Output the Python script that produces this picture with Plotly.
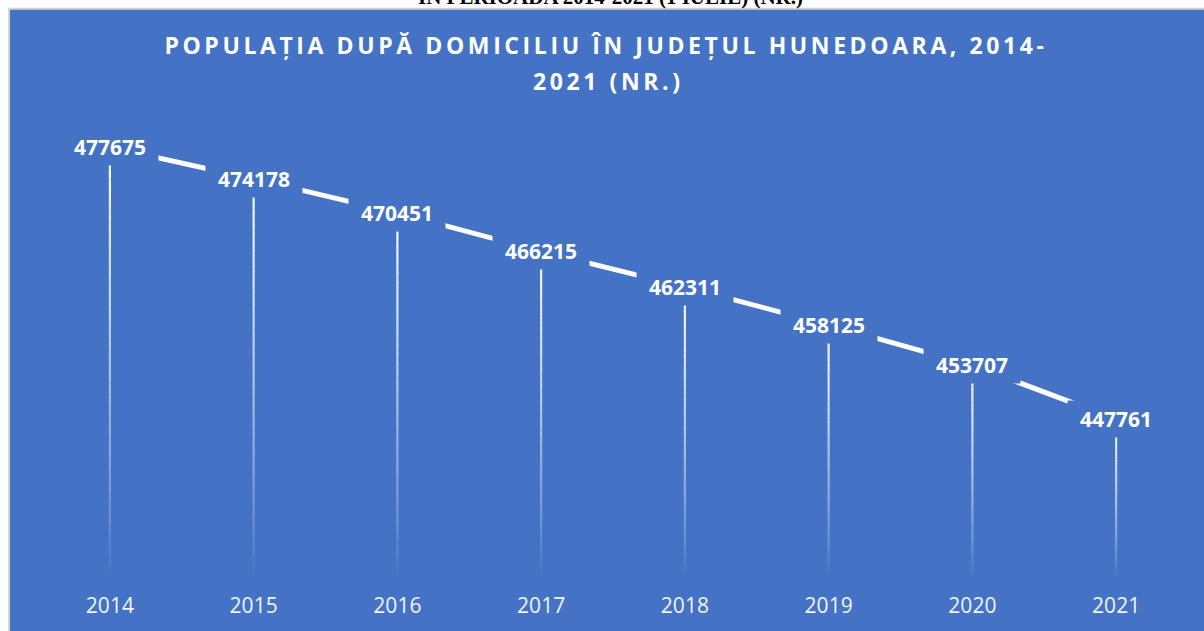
import plotly.graph_objects as go

# ---- data ----
years = [2014, 2015, 2016, 2017, 2018, 2019, 2020, 2021]
population = [477675, 474178, 470451, 466215, 462311, 458125, 453707, 447761]
tick_labels = ["2014", "2015", "2016", "2017", "2018", "2019", "2020", "2021"]
title_line1 = "POPULAȚIA DUPĂ DOMICILIU ÎN JUDEȚUL HUNEDOARA, 2014-"
title_line2 = "2021 (NR.)"
caption_above = "ÎN PERIOADA 2014-2021 (1 IULIE) (NR.)"

# ---- layout constants ----
W, H = 1204, 631
L, R, T, B = 38, 16, 126, 51
Y_MIN, Y_MAX = 430400, 480000
BLUE = "#4472C4"
FONT = "Open Sans"


def px_x(px):
    return (px - L) / (W - L - R)


def px_y(py):
    return (H - B - py) / (H - T - B)


fig = go.Figure()

# fading drop lines (gradient white -> transparent), built from the data values
N = 40
for k in range(N):
    xs, ys = [], []
    for yr, v in zip(years, population):
        top = v - (v - Y_MIN) * k / N
        bot = v - (v - Y_MIN) * (k + 1) / N
        xs += [yr, yr, None]
        ys += [top, bot, None]
    alpha = max(0.0, 1.0 - (k + 0.5) / N) ** 0.8
    fig.add_trace(go.Scatter(
        x=xs, y=ys, mode="lines",
        line=dict(color=f"rgba(255,255,255,{alpha:.3f})", width=2.2),
        hoverinfo="skip", showlegend=False,
    ))

# main line
fig.add_trace(go.Scatter(
    x=years, y=population, mode="lines",
    line=dict(color="white", width=5),
    showlegend=False, hoverinfo="skip",
))

annotations = []
for yr, v in zip(years, population):
    annotations.append(dict(
        x=yr, y=v, xref="x", yref="y", text=str(v), showarrow=False,
        font=dict(family=FONT, size=21, color="white", weight="bold"),
        bgcolor=BLUE, width=94, height=34, xanchor="center", yanchor="middle",
    ))

annotations.append(dict(
    x=px_x(606), y=px_y(44), xref="paper", yref="paper", text=title_line1,
    showarrow=False, xanchor="center", yanchor="middle",
    font=dict(family=FONT, size=23, color="white", weight="bold"),
))
annotations.append(dict(
    x=px_x(608), y=px_y(81), xref="paper", yref="paper", text=title_line2,
    showarrow=False, xanchor="center", yanchor="middle",
    font=dict(family=FONT, size=23, color="white", weight="bold"),
))
annotations.append(dict(
    x=px_x(610), y=px_y(-4), xref="paper", yref="paper", text=caption_above,
    showarrow=False, xanchor="center", yanchor="middle",
    font=dict(family="Liberation Serif", size=21, color="black", weight="bold"),
))

fig.update_layout(
    width=W, height=H,
    margin=dict(l=L, r=R, t=T, b=B, pad=0),
    paper_bgcolor="white",
    plot_bgcolor=BLUE,
    showlegend=False,
    annotations=annotations,
    shapes=[dict(
        type="rect", xref="paper", yref="paper", layer="below",
        x0=px_x(9), x1=px_x(1215), y0=px_y(645), y1=px_y(8),
        fillcolor=BLUE, line=dict(color="#d4d4d4", width=2),
    )],
    xaxis=dict(
        range=[2013.5, 2021.5], tickvals=years, ticktext=tick_labels,
        showgrid=False, zeroline=False, showline=False, ticks="",
        tickfont=dict(family=FONT, size=21, color="#f2f4fa"),
        ticklabelstandoff=14, fixedrange=True,
    ),
    yaxis=dict(
        range=[Y_MIN, Y_MAX], visible=False, showgrid=False, zeroline=False,
        fixedrange=True,
    ),
)

post = """
document.body.style.margin='0';
var gd=document.getElementById('{plot_id}');
gd.querySelectorAll('.annotation-text').forEach(function(t){
  var s=t.textContent;
  if(s.indexOf('POPULA')===0 || s.indexOf('2021 (NR')===0){ t.style.letterSpacing='3.6px'; }
});
"""

fig.write_html("out.html", post_script=post, config={"displayModeBar": False})
